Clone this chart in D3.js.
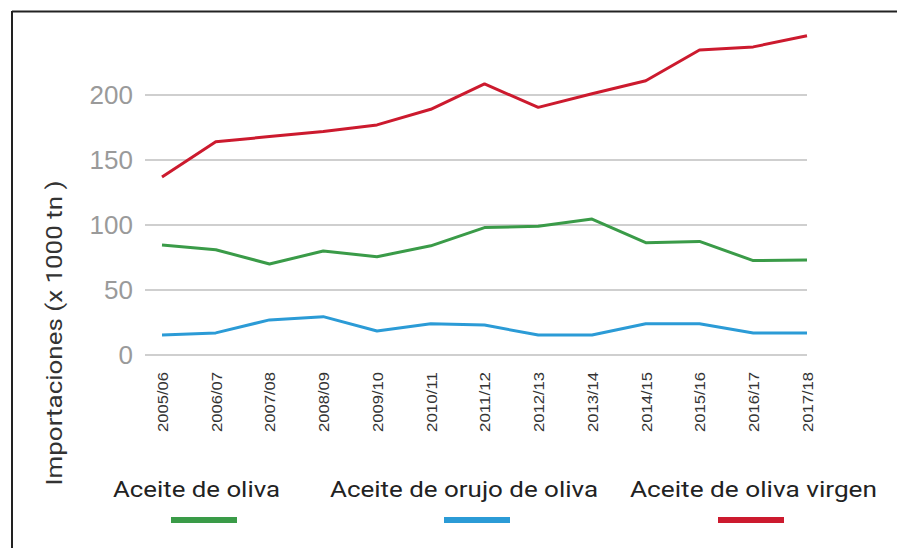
<!DOCTYPE html>
<html>
<head>
<meta charset="utf-8">
<script src="https://cdn.jsdelivr.net/npm/d3@7"></script>
<style>
  body { margin: 0; background: #fff; }
  svg { font-family: Roboto, "Noto Sans", sans-serif; }
</style>
</head>
<body>
<div id="chart"></div>
<script>
// campaigns on the x axis
var campaigns = ["2005/06","2006/07","2007/08","2008/09","2009/10","2010/11","2011/12",
                 "2012/13","2013/14","2014/15","2015/16","2016/17","2017/18"]
// imports, thousands of tonnes
var aceite_oliva = [84.6, 81, 70, 80, 75.6, 84, 98, 99, 104.6, 86.4, 87.4, 72.6, 73]
var aceite_orujo = [15.4, 17, 27, 29.5, 18.5, 24, 23, 15.4, 15.4, 24, 24, 17, 17]
var aceite_virgen = [137, 164, 168, 172, 177, 189, 208.5, 190.5, 201, 211, 234.6, 237, 245.6]
var y_ticks = [0, 50, 100, 150, 200]

var series = [
  {name: "Aceite de oliva", values: aceite_oliva, color: "#3a9b48"},
  {name: "Aceite de orujo de oliva", values: aceite_orujo, color: "#2b9bd6"},
  {name: "Aceite de oliva virgen", values: aceite_virgen, color: "#cc1a2e"}
]

var W = 897, H = 548
var svg = d3.select("#chart").append("svg")
    .attr("width", W).attr("height", H)

// frame (top and left edges only are visible)
svg.append("line").attr("x1", 12).attr("x2", W).attr("y1", 11.5).attr("y2", 11.5)
    .attr("stroke", "#222").attr("stroke-width", 2)
svg.append("line").attr("x1", 12).attr("x2", 12).attr("y1", 11).attr("y2", H)
    .attr("stroke", "#222").attr("stroke-width", 2)

var x = d3.scalePoint().domain(campaigns).range([162, 807])
var y = d3.scaleLinear().domain([0, 200]).range([355, 95])

// gridlines
svg.append("g").selectAll("line")
  .data(y_ticks)
  .join("line")
    .attr("x1", 145).attr("x2", 807)
    .attr("y1", d => y(d)).attr("y2", d => y(d))
    .attr("stroke", "#cfcfcf").attr("stroke-width", 2)

// y axis labels
var yAxis = svg.append("g")
    .attr("transform", "translate(145,0)")
    .call(d3.axisLeft(y).tickValues(y_ticks).tickSize(0).tickPadding(12))
yAxis.select(".domain").remove()
yAxis.selectAll("text")
    .style("font-size", "26px").style("font-weight", "300")
    .attr("fill", "#9a9a9a")

// x axis labels, rotated
var xAxis = svg.append("g")
    .attr("transform", "translate(0,366)")
    .call(d3.axisBottom(x).tickSize(0).tickPadding(0))
xAxis.select(".domain").remove()
xAxis.selectAll("text")
    .attr("transform", "rotate(-90)")
    .attr("x", -6).attr("y", 0).attr("dy", "0.35em")
    .style("text-anchor", "end")
    .style("font-size", "15px")
    .attr("textLength", 60).attr("lengthAdjust", "spacingAndGlyphs")
    .attr("fill", "#333")

// y title
svg.append("text")
    .attr("transform", "translate(62,333)rotate(-90)")
    .style("text-anchor", "middle")
    .style("font-size", "22px")
    .attr("textLength", 305).attr("lengthAdjust", "spacingAndGlyphs")
    .attr("fill", "#333")
    .text("Importaciones (x 1000 tn )")

// lines
var line = d3.line()
    .x((d, i) => x(campaigns[i]))
    .y(d => y(d))

svg.append("g").selectAll("path")
  .data(series)
  .join("path")
    .attr("d", d => line(d.values))
    .attr("fill", "none")
    .attr("stroke", d => d.color)
    .attr("stroke-width", 3)
    .attr("stroke-linejoin", "round")

// legend
var legend_text_x = [113, 330, 630]
var legend_w = [167, 268, 247]
var legend_swatch_x = [171, 444, 718]
var leg = svg.append("g").selectAll("g")
  .data(series)
  .join("g")

leg.append("text")
    .attr("x", (d, i) => legend_text_x[i])
    .attr("y", 497)
    .style("font-size", "22px")
    .attr("textLength", (d, i) => legend_w[i]).attr("lengthAdjust", "spacingAndGlyphs")
    .attr("fill", "#222")
    .text(d => d.name)

leg.append("rect")
    .attr("x", (d, i) => legend_swatch_x[i]).attr("y", 517)
    .attr("width", 66).attr("height", 6)
    .attr("fill", d => d.color)
</script>
</body>
</html>
